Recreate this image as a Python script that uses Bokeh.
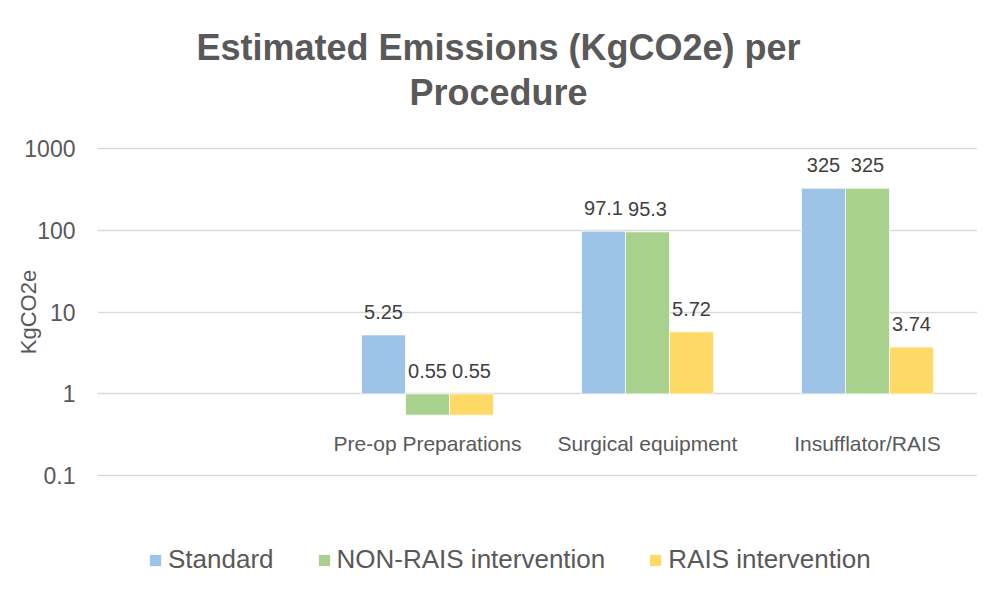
from bokeh.plotting import figure
from bokeh.layouts import column
from bokeh.models import (FactorRange, Range1d, FixedTicker, CustomJSTickFormatter,
                          ColumnDataSource, Legend, LegendItem, Label)
from bokeh.transform import dodge
from bokeh.core.properties import value
from bokeh.embed import file_html
from bokeh.resources import INLINE

# ---- data ----
categories = [" ", "Pre-op Preparations", "Surgical equipment", "Insufflator/RAIS"]
bar_categories = ["Pre-op Preparations", "Surgical equipment", "Insufflator/RAIS"]
series_names = ["Standard", "NON-RAIS intervention", "RAIS intervention"]
standard = [5.25, 97.1, 325]
non_rais = [0.55, 95.3, 325]
rais = [0.55, 5.72, 3.74]
y_ticks = [0.1, 1, 10, 100, 1000]
title_lines = ["Estimated Emissions (KgCO2e) per", "Procedure"]
y_label = "KgCO2e"

# ---- style ----
FONT = "Liberation Sans"
colors = ["#9DC3E6", "#A9D18E", "#FFD966"]
AXIS_CROSS = 1
CAT_LABEL_Y = 0.25
PAD = 1.02
W = 996
FRAME_LEFT = 97
TOP_H, LEG_H = 127, 97


def blank(height):
    f = figure(width=W, height=height, x_range=Range1d(0, 1), y_range=Range1d(0, 1),
               x_axis_location=None, y_axis_location=None, output_backend="svg",
               toolbar_location=None, min_border=0)
    f.outline_line_color = None
    f.grid.visible = False
    return f


# ---- title block (frames are aligned with the main plot's frame in the column) ----
p_top = blank(TOP_H)
for line, ys in zip(title_lines, [80, 35]):
    p_top.add_layout(Label(x=W / 2 - FRAME_LEFT, y=ys, x_units="screen", y_units="screen",
                           text=line, text_align="center", text_baseline="alphabetic",
                           text_font=FONT, text_font_size="36px", text_font_style="bold",
                           text_color="#595959"))

# ---- main plot ----
p = figure(x_range=FactorRange(*categories, range_padding=0),
           y_range=Range1d(y_ticks[0] / PAD, y_ticks[-1] * PAD), y_axis_type="log",
           x_axis_location=None,
           frame_width=880, frame_height=329, output_backend="svg", toolbar_location=None,
           min_border_left=FRAME_LEFT, min_border_right=19, min_border_top=20, min_border_bottom=20)
p.outline_line_color = None
p.xgrid.grid_line_color = None

ya = p.yaxis[0]
ya.ticker = FixedTicker(ticks=y_ticks, minor_ticks=[])
ya.formatter = CustomJSTickFormatter(code="return String(tick)")
ya.axis_line_color = None
ya.major_tick_line_color = None
ya.minor_tick_line_color = None
ya.major_tick_out = 0
ya.major_tick_in = 0
ya.major_label_standoff = 22
ya.major_label_text_font = FONT
ya.major_label_text_font_size = "23px"
ya.major_label_text_color = "#595959"
ya.axis_label = y_label
ya.axis_label_text_font = FONT
ya.axis_label_text_font_size = "22px"
ya.axis_label_text_font_style = "normal"
ya.axis_label_text_color = "#595959"
ya.axis_label_standoff = -20

p.ygrid.ticker = FixedTicker(ticks=y_ticks, minor_ticks=[])
p.ygrid.grid_line_color = "#D9D9D9"
p.ygrid.grid_line_width = 1.5

offsets = [-0.2, 0.0, 0.2]
for name, vals, col, off in zip(series_names, [standard, non_rais, rais], colors, offsets):
    src = ColumnDataSource(dict(
        x=bar_categories,
        top=vals,
        bottom=[AXIS_CROSS] * len(vals),
        label=[f"{v:g}" for v in vals],
        label_y=[max(v, AXIS_CROSS) for v in vals],
    ))
    p.vbar(x=dodge("x", off, range=p.x_range), top="top", bottom="bottom", width=0.2,
           source=src, fill_color=col, line_color="white", line_width=0.75)
    p.text(x=dodge("x", off, range=p.x_range), y="label_y", text="label", source=src,
           text_align="center", text_baseline="middle", y_offset=-23,
           text_font=value(FONT), text_font_size="20px", text_color="#404040")

cat_src = ColumnDataSource(dict(x=bar_categories, y=[CAT_LABEL_Y] * len(bar_categories),
                                t=bar_categories))
p.text(x="x", y="y", text="t", source=cat_src, text_align="center", text_baseline="middle",
       text_font=value(FONT), text_font_size="21px", text_color="#595959")

# ---- legend block ----
p_leg = blank(LEG_H)
items = []
for name, col in zip(series_names, colors):
    # zero-height swatch renderer: only provides the legend glyph
    r = p_leg.vbar(x=[0.5], top=[0], bottom=[0], width=0.1, fill_color=col, line_color=None)
    items.append(LegendItem(label=name, renderers=[r]))
legend = Legend(items=items, orientation="horizontal", location=(148 - FRAME_LEFT, 18),
                label_text_font=FONT, label_text_font_size="26px", label_text_color="#595959",
                glyph_width=14, glyph_height=14, label_standoff=6, spacing=43,
                border_line_color=None, background_fill_alpha=0, padding=0, margin=0)
p_leg.add_layout(legend, "center")

layout = column(p_top, p, p_leg, spacing=0)
open("out.html", "w").write(file_html(layout, INLINE))
